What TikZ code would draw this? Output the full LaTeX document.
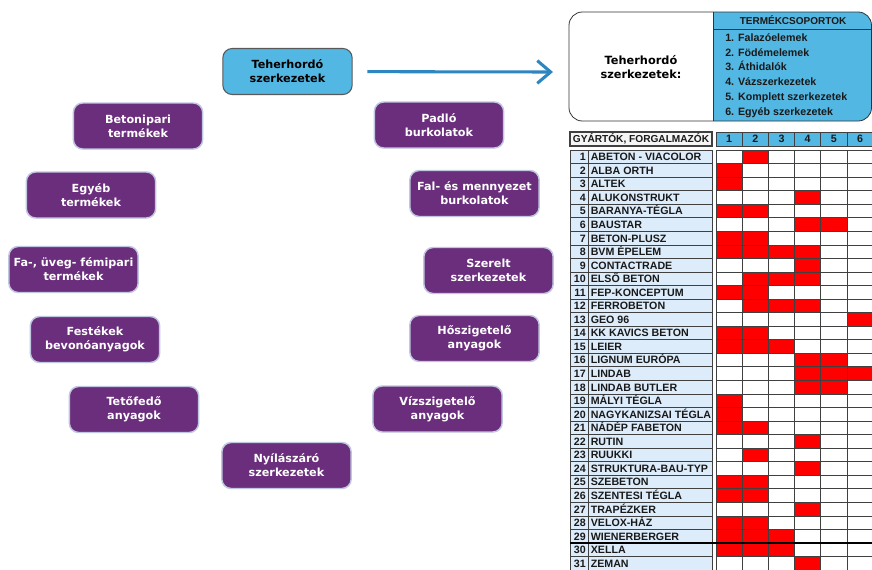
\documentclass[tikz,border=0pt]{standalone}
\usepackage{fontspec}
\newfontfamily\dejavu{DejaVu Sans}
\newfontfamily\liber{Liberation Sans}
\usetikzlibrary{arrows.meta, positioning}
\definecolor{lila}{RGB}{107,46,124}
\definecolor{lilakeret}{RGB}{192,199,224}
\definecolor{kek}{RGB}{82,183,227}
\definecolor{nyilkek}{RGB}{46,134,193}
\definecolor{halvany}{RGB}{221,236,250}
\definecolor{piros}{RGB}{255,0,0}
\tikzset{
    csoport/.style={draw=lilakeret, line width=1.1pt, fill=lila, rounded corners=7pt,
        minimum width=97pt, minimum height=34.5pt, inner sep=1pt, align=center,
        text=white, font=\dejavu\bfseries\fontsize{8.4}{10.5}\selectfont},
    fo/.style={csoport, draw=black!65, line width=0.8pt, fill=kek, text=black},
    nyil/.style={draw=nyilkek, line width=2.3pt, -{Straight Barb[length=10pt,width=17pt]}, shorten <=11pt},
    cella/.style={draw=black!75, line width=0.5pt},
    tabszoveg/.style={inner sep=0pt, text height=5.9pt, text depth=0pt,
        font=\liber\bfseries\fontsize{8}{9}\selectfont, text=black!90}
}
% egy gyarto sora: sorszam, nev, termekcsoportok
\newcommand{\sor}[3]{%
    \pgfmathsetmacro{\ft}{150+(#1-1)*13.55}%
    \pgfmathsetmacro{\fa}{\ft+13.55}%
    \pgfmathsetmacro{\fk}{\ft+6.775}%
    \foreach \c in {#3}{\fill[piros] ({716+(\c-1)*26.2},\ft) rectangle ({716+\c*26.2},\fa);}%
    \draw[cella, fill=halvany] (570,\ft) rectangle (588,\fa);
    \draw[cella, fill=halvany] (588,\ft) rectangle (712,\fa);
    \node[tabszoveg, anchor=east] (sz#1) at (586,\fk) {#1};
    \node[tabszoveg, anchor=west] (gy#1) at (590.5,\fk) {#2};
}

\begin{document}
\begin{tikzpicture}[x=0.75pt, y=-0.75pt]
    \def \rh {13.55}
    \def \cw {26.2}
    \fill[white] (0,0) rectangle (872,569);
    \useasboundingbox (0,0) rectangle (872,569);
    \clip (0,0) rectangle (872,569);

    % termekcsoportok kore
    \node[fo] (teher) at (287.5,71.5) {Teherhordó\\szerkezetek};
    \node[csoport] (beton) at (138,126) {Betonipari\\termékek};
    \node[csoport] (egyeb) at (91,195) {Egyéb\\termékek};
    \node[csoport] (fa) at (73.5,269.5) {Fa-, üveg- fémipari\\termékek};
    \node[csoport] (festek) at (95,339.5) {Festékek\\bevonóanyagok};
    \node[csoport] (teto) at (134,409.5) {Tetőfedő\\anyagok};
    \node[csoport] (nyilasz) at (286.5,465.5) {Nyílászáró\\szerkezetek};
    \node[csoport] (viz) at (437.5,409) {Vízszigetelő\\anyagok};
    \node[csoport] (ho) at (474.5,338.5) {Hőszigetelő\\anyagok};
    \node[csoport] (szerelt) at (488.5,270.5) {Szerelt\\szerkezetek};
    \node[csoport] (fal) at (474.5,193.5) {Fal- és mennyezet\\burkolatok};
    \node[csoport] (padlo) at (439,125) {Padló\\burkolatok};

    \coordinate (tabla) at (553,72);
    \draw[nyil] (teher) -- (tabla);

    % tabla fejlece
    \draw[black!80, line width=0.6pt] (713,12) [rounded corners=10pt] -- (569,12) -- (569,121) [sharp corners] -- (713,121);
    \filldraw[fill=kek, draw=black!80, line width=0.6pt] (713.5,12) [rounded corners=10pt] -- (871.5,12) -- (871.5,121) [sharp corners] -- (713.5,121) -- cycle;
    \draw[black!80, line width=0.6pt] (713.5,29) -- (871.5,29);
    \node[align=center, font=\dejavu\bfseries\fontsize{8.5}{10.5}\selectfont] (cim) at (641,67) {Teherhordó\\szerkezetek:};
    \node[tabszoveg, font=\liber\bfseries\fontsize{7.5}{9}\selectfont] (csop) at (793,20.5) {TERMÉKCSOPORTOK};
    \node[tabszoveg, anchor=west] (t1) at (725,37.3) {1. Falazóelemek};
    \node[tabszoveg, anchor=west] (t2) at (725,52.1) {2. Födémelemek};
    \node[tabszoveg, anchor=west] (t3) at (725,66.9) {3. Áthidalók};
    \node[tabszoveg, anchor=west] (t4) at (725,81.7) {4. Vázszerkezetek};
    \node[tabszoveg, anchor=west] (t5) at (725,96.5) {5. Komplett szerkezetek};
    \node[tabszoveg, anchor=west] (t6) at (725,111.3) {6. Egyéb szerkezetek};

    \draw[cella, line width=0.8pt, fill=gray!8] (570,132) rectangle (712,146);
    \node[tabszoveg, font=\liber\bfseries\fontsize{7.6}{9}\selectfont] (gyfej) at (641,139) {GYÁRTÓK, FORGALMAZÓK};
    \foreach \c in {1,...,6}{
        \draw[cella, fill=kek] ({716+(\c-1)*\cw},132) rectangle ({716+\c*\cw},146);
        \node[tabszoveg] (cs\c) at ({716+(\c-0.5)*\cw},139) {\c};
    }

    % gyartok
    \sor{1}{ABETON - VIACOLOR}{2}
    \sor{2}{ALBA ORTH}{1}
    \sor{3}{ALTEK}{1}
    \sor{4}{ALUKONSTRUKT}{4}
    \sor{5}{BARANYA-TÉGLA}{1,2}
    \sor{6}{BAUSTAR}{4,5}
    \sor{7}{BETON-PLUSZ}{1,2}
    \sor{8}{BVM ÉPELEM}{1,2,3,4}
    \sor{9}{CONTACTRADE}{4}
    \sor{10}{ELSŐ BETON}{2,3,4}
    \sor{11}{FEP-KONCEPTUM}{1,2}
    \sor{12}{FERROBETON}{2,3,4}
    \sor{13}{GEO 96}{6}
    \sor{14}{KK KAVICS BETON}{1,2}
    \sor{15}{LEIER}{1,2,3}
    \sor{16}{LIGNUM EURÓPA}{4,5}
    \sor{17}{LINDAB}{4,5,6}
    \sor{18}{LINDAB  BUTLER}{4,5}
    \sor{19}{MÁLYI TÉGLA}{1}
    \sor{20}{NAGYKANIZSAI TÉGLA}{1}
    \sor{21}{NÁDÉP FABETON}{1,2}
    \sor{22}{RUTIN}{4}
    \sor{23}{RUUKKI}{2}
    \sor{24}{STRUKTURA-BAU-TYP}{4}
    \sor{25}{SZEBETON}{1,2}
    \sor{26}{SZENTESI TÉGLA}{1,2}
    \sor{27}{TRAPÉZKER}{4}
    \sor{28}{VELOX-HÁZ}{1,2}
    \sor{29}{WIENERBERGER}{1,2,3}
    \sor{30}{XELLA}{1,2,3}
    \sor{31}{ZEMAN}{4}

    % racs
    \foreach \c in {0,...,6}
        \draw[cella] ({716+\c*\cw},150) -- ({716+\c*\cw},{150+31*\rh});
    \foreach \r in {0,...,31}
        \draw[cella] (716,{150+\r*\rh}) -- (874,{150+\r*\rh});
    \draw[black, line width=0.9pt] (570,{150+29*\rh}) -- (874,{150+29*\rh});
\end{tikzpicture}
\end{document}
